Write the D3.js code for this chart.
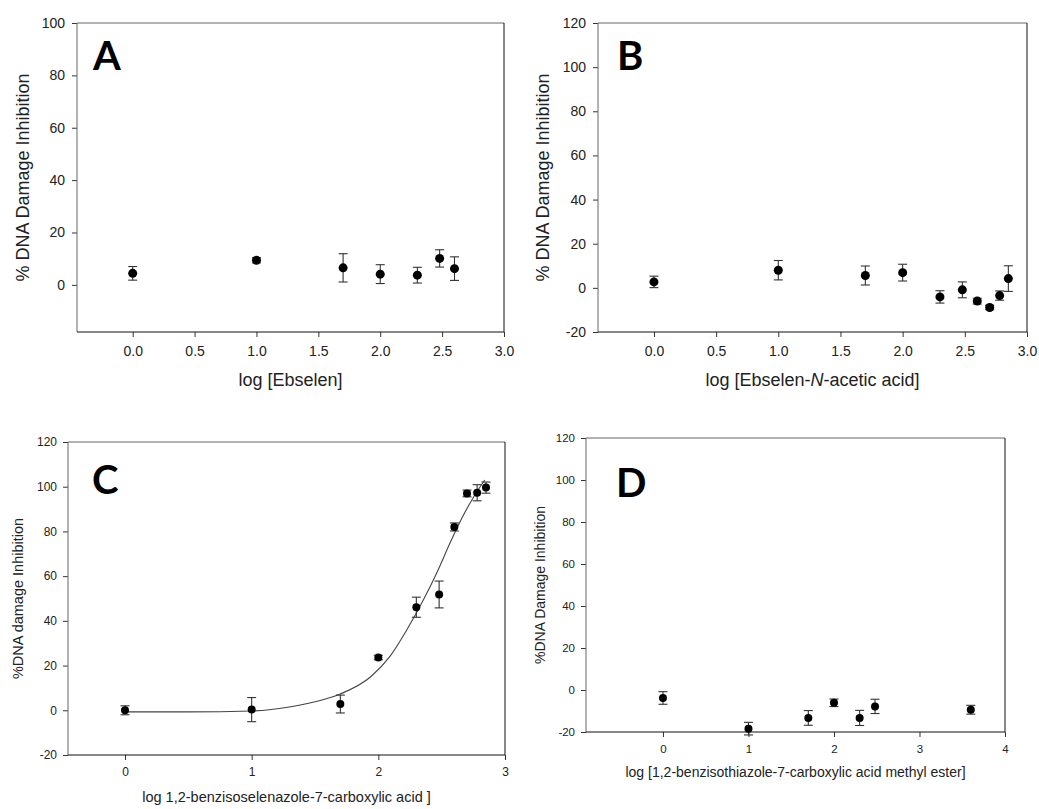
<!DOCTYPE html>
<html>
<head>
<meta charset="utf-8">
<script src="https://cdn.jsdelivr.net/npm/d3@7"></script>
<style>
  body { margin: 0; background: #fff; }
  svg { display: block; }
  text { font-family: "Liberation Sans", Arial, sans-serif; fill: #222; }
  .letter { font-family: Lato, "Open Sans", sans-serif; font-weight: 700; fill: #000; }
</style>
</head>
<body>
<div id="myChart"></div>
<script>
// ---- data ----
// A: Ebselen
const xA = [0, 1, 1.7, 2, 2.3, 2.48, 2.6]
const yA = [4.4, 9.4, 6.5, 4.1, 3.7, 10.1, 6.2]
const eA = [2.6, 1.0, 5.4, 3.6, 3.0, 3.3, 4.5]

// B: Ebselen-N-acetic acid
const xB = [0, 1, 1.7, 2, 2.3, 2.48, 2.6, 2.7, 2.78, 2.85]
const yB = [2.7, 8.0, 5.6, 6.9, -4.1, -0.9, -6.0, -8.9, -3.5, 4.2]
const eB = [2.6, 4.4, 4.3, 3.8, 2.8, 3.6, 1.3, 1.0, 2.1, 5.8]

// C: 1,2-benzisoselenazole-7-carboxylic acid
const xC = [0, 1, 1.7, 2, 2.3, 2.48, 2.6, 2.7, 2.78, 2.85]
const yC = [0.0, 0.3, 2.8, 23.6, 46.1, 51.8, 82.0, 97.0, 97.3, 99.6]
const eC = [2.0, 5.4, 4.0, 1.0, 4.5, 6.0, 1.8, 1.5, 3.6, 2.5]
// fitted curve
const fitX = [0, 0.5, 1.0, 1.31, 1.5, 1.7, 1.94, 2.09, 2.225, 2.356, 2.46, 2.566, 2.66, 2.75, 2.84]
const fitY = [-0.7, -0.7, -0.3, 1.6, 3.8, 7.3, 15.0, 24.0, 36.0, 49.4, 61.3, 74.8, 86.0, 95.2, 103.0]

// D: 1,2-benzisothiazole-7-carboxylic acid methyl ester
const xD = [0, 1, 1.7, 2, 2.3, 2.48, 3.6]
const yD = [-3.8, -18.4, -13.3, -6.1, -13.3, -7.8, -9.4]
const eD = [3.0, 3.0, 3.5, 1.8, 3.6, 3.4, 2.1]

// ticks
const xTicksAB = [0, 0.5, 1, 1.5, 2, 2.5, 3]
const xTicksC = [0, 1, 2, 3]
const xTicksD = [0, 1, 2, 3, 4]
const yTicksA = [0, 20, 40, 60, 80, 100]
const yTicksBCD = [-20, 0, 20, 40, 60, 80, 100, 120]

let width = 1039
let height = 809

let svg = d3.select("#myChart")
  .append("svg")
  .attr("width", width)
  .attr("height", height)

function drawPanel(p) {
  let x = d3.scaleLinear().domain(p.xDomain).range([p.left, p.right])
  let y = d3.scaleLinear().domain(p.yDomain).range([p.bottom, p.top])
  let g = svg.append("g")

  // axes (plain hyphen for negatives, like the original)
  let fx = d3.format(p.xFormat)
  let xAxis = d3.axisBottom(x).tickValues(p.xTicks).tickFormat(d => fx(d).replace("\u2212", "-"))
    .tickSize(5).tickPadding(p.xPad).tickSizeOuter(0)
  let yAxis = d3.axisLeft(y).tickValues(p.yTicks).tickFormat(d => String(d))
    .tickSize(5).tickPadding(p.yPad).tickSizeOuter(0)

  let gx = g.append("g").attr("transform", `translate(0,${p.bottom})`).call(xAxis)
  let gy = g.append("g").attr("transform", `translate(${p.left},0)`).call(yAxis)
  ;[gx, gy].forEach(a => {
    a.select(".domain").remove()
    a.selectAll("line").attr("stroke", "#333")
    a.selectAll("text").style("font-size", p.tickFont + "px")
      .style("font-family", '"Liberation Sans", Arial, sans-serif').attr("fill", "#222")
  })

  // frame
  g.append("line").attr("x1", p.left).attr("x2", p.right).attr("y1", p.top).attr("y2", p.top).attr("stroke", "#666")
  g.append("line").attr("x1", p.left).attr("x2", p.left).attr("y1", p.top).attr("y2", p.bottom).attr("stroke", "#666")
  g.append("line").attr("x1", p.left).attr("x2", p.right).attr("y1", p.bottom).attr("y2", p.bottom).attr("stroke", "#111")
  g.append("line").attr("x1", p.right).attr("x2", p.right).attr("y1", p.top).attr("y2", p.bottom).attr("stroke", "#111")

  // fitted curve
  if (p.fitX) {
    let line = d3.line().x(d => x(d[0])).y(d => y(d[1])).curve(d3.curveMonotoneX)
    g.append("path")
      .datum(d3.zip(p.fitX, p.fitY))
      .attr("d", line)
      .attr("fill", "none")
      .attr("stroke", "#444")
      .attr("stroke-width", 1.1)
  }

  let pts = d3.zip(p.xs, p.ys, p.es)

  // error bars
  let eb = g.append("g").attr("stroke", "#333").attr("stroke-width", 1.1)
  eb.selectAll(".v").data(pts).enter().append("line")
    .attr("x1", d => x(d[0])).attr("x2", d => x(d[0]))
    .attr("y1", d => y(d[1] - d[2])).attr("y2", d => y(d[1] + d[2]))
  eb.selectAll(".t").data(pts).enter().append("line")
    .attr("x1", d => x(d[0]) - 4.5).attr("x2", d => x(d[0]) + 4.5)
    .attr("y1", d => y(d[1] + d[2])).attr("y2", d => y(d[1] + d[2]))
  eb.selectAll(".b").data(pts).enter().append("line")
    .attr("x1", d => x(d[0]) - 4.5).attr("x2", d => x(d[0]) + 4.5)
    .attr("y1", d => y(d[1] - d[2])).attr("y2", d => y(d[1] - d[2]))

  // points
  g.selectAll("circle").data(pts).enter().append("circle")
    .attr("cx", d => x(d[0]))
    .attr("cy", d => y(d[1]))
    .attr("r", p.r)
    .attr("fill", "#000")

  // titles
  let xt = g.append("text")
    .attr("x", (p.left + p.right) / 2)
    .attr("y", p.xTitleY)
    .attr("text-anchor", "middle")
    .style("font-size", p.titleFont + "px")
  p.xTitle.forEach(s => xt.append("tspan").text(s[0]).style("font-style", s[1] ? "italic" : "normal"))

  g.append("text")
    .attr("transform", `translate(${p.yTitleX},${(p.top + p.bottom) / 2}) rotate(-90)`)
    .attr("text-anchor", "middle")
    .style("font-size", p.titleFont + "px")
    .text(p.yTitle)

  g.append("text")
    .attr("class", "letter")
    .attr("x", p.letterX)
    .attr("y", p.letterY)
    .style("font-size", "40px")
    .text(p.letter)
}

drawPanel({
  letter: "A", letterX: 93, letterY: 70,
  left: 77, right: 504, top: 23, bottom: 332,
  xDomain: [-0.45, 3], yDomain: [-18, 100],
  xTicks: xTicksAB, yTicks: yTicksA, xFormat: ".1f",
  xPad: 9, yPad: 7, tickFont: 14, titleFont: 18, r: 4.5,
  xs: xA, ys: yA, es: eA,
  xTitle: [["log [Ebselen]", false]], xTitleY: 386,
  yTitle: "% DNA Damage Inhibition", yTitleX: 29
})

drawPanel({
  letter: "B", letterX: 617, letterY: 70,
  left: 598, right: 1027, top: 23, bottom: 332,
  xDomain: [-0.45, 3], yDomain: [-20, 120],
  xTicks: xTicksAB, yTicks: yTicksBCD, xFormat: ".1f",
  xPad: 9, yPad: 7, tickFont: 14, titleFont: 18, r: 4.5,
  xs: xB, ys: yB, es: eB,
  xTitle: [["log [Ebselen-", false], ["N", true], ["-acetic acid]", false]], xTitleY: 386,
  yTitle: "% DNA Damage Inhibition", yTitleX: 549
})

drawPanel({
  letter: "C", letterX: 92, letterY: 494,
  left: 68, right: 505, top: 442, bottom: 755,
  xDomain: [-0.45, 3], yDomain: [-20, 120],
  xTicks: xTicksC, yTicks: yTicksBCD, xFormat: "d",
  xPad: 7.5, yPad: 6, tickFont: 12, titleFont: 14.5, r: 4,
  xs: xC, ys: yC, es: eC, fitX: fitX, fitY: fitY,
  xTitle: [["log 1,2-benzisoselenazole-7-carboxylic acid ]", false]], xTitleY: 802,
  yTitle: "%DNA damage Inhibition", yTitleX: 23
})

drawPanel({
  letter: "D", letterX: 616, letterY: 497,
  left: 586, right: 1005, top: 438, bottom: 732,
  xDomain: [-0.9, 4], yDomain: [-20, 120],
  xTicks: xTicksD, yTicks: yTicksBCD, xFormat: "d",
  xPad: 8, yPad: 6, tickFont: 11.5, titleFont: 14, r: 4,
  xs: xD, ys: yD, es: eD,
  xTitle: [["log [1,2-benzisothiazole-7-carboxylic acid methyl ester]", false]], xTitleY: 777,
  yTitle: "%DNA Damage Inhibition", yTitleX: 545
})
</script>
</body>
</html>
